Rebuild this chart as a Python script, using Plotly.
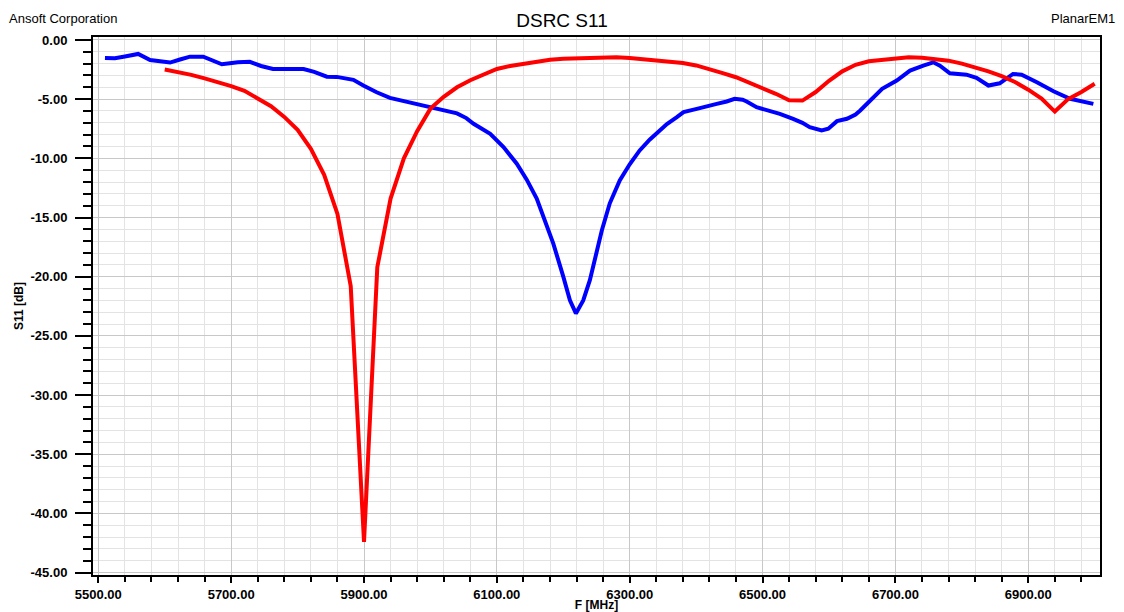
import plotly.graph_objects as go

# Blue trace (S11, curve 1)
blue_freq = [5510, 5525, 5540, 5560, 5578, 5595, 5608, 5623, 5638, 5658, 5672, 5686, 5698, 5710,
             5728, 5745, 5763, 5785, 5809, 5825, 5844, 5859, 5874, 5884, 5899, 5919, 5939, 5964,
             5994, 6024, 6040, 6054, 6065, 6090, 6110, 6130, 6145, 6160, 6175, 6185, 6200, 6210,
             6219, 6230, 6240, 6258, 6270, 6285, 6300, 6315, 6330, 6345, 6356, 6371, 6381, 6401,
             6421, 6431, 6446, 6458, 6470, 6476, 6491, 6510, 6526, 6546, 6560, 6571, 6589, 6599,
             6612, 6627, 6640, 6647, 6662, 6670, 6680, 6702, 6722, 6742, 6757, 6767, 6782, 6807,
             6822, 6840, 6857, 6877, 6890, 6913, 6938, 6963, 6998]
blue_db = [-1.52, -1.55, -1.40, -1.18, -1.69, -1.85, -1.91, -1.65, -1.41, -1.41, -1.75, -2.05, -1.97, -1.88,
           -1.85, -2.20, -2.45, -2.45, -2.45, -2.70, -3.10, -3.12, -3.29, -3.37, -3.85, -4.42, -4.89, -5.20,
           -5.65, -5.96, -6.20, -6.60, -7.08, -7.93, -9.05, -10.46, -11.80, -13.40, -15.60, -17.20, -20.00, -22.00,
           -23.10, -22.00, -20.30, -16.10, -13.80, -11.86, -10.50, -9.33, -8.43, -7.65, -7.10, -6.52, -6.10, -5.82,
           -5.50, -5.40, -5.20, -4.97, -5.05, -5.20, -5.68, -5.95, -6.24, -6.66, -7.00, -7.37, -7.65, -7.50,
           -6.86, -6.66, -6.30, -5.96, -5.12, -4.60, -4.13, -3.43, -2.59, -2.17, -1.89, -2.17, -2.81, -2.93,
           -3.20, -3.85, -3.66, -2.87, -2.93, -3.57, -4.33, -4.97, -5.40]

# Red trace (S11, curve 2)
red_freq = [5600, 5620, 5640, 5660, 5680, 5700, 5720, 5740, 5760, 5780, 5800, 5820, 5840, 5860, 5880,
            5900, 5920, 5940, 5960, 5980, 6000, 6020, 6040, 6060, 6080, 6100, 6120, 6140, 6160, 6180,
            6200, 6220, 6240, 6260, 6280, 6300, 6320, 6340, 6360, 6380, 6400, 6420, 6440, 6460, 6480,
            6500, 6520, 6540, 6560, 6580, 6600, 6620, 6640, 6660, 6680, 6700, 6720, 6740, 6760, 6780,
            6800, 6820, 6840, 6860, 6880, 6900, 6920, 6940, 6960, 6980, 7000]
red_db = [-2.50, -2.70, -2.95, -3.25, -3.55, -3.90, -4.30, -4.95, -5.60, -6.50, -7.60, -9.20, -11.40, -14.70, -20.80,
          -42.40, -19.20, -13.40, -10.00, -7.70, -5.80, -4.80, -4.00, -3.40, -2.90, -2.45, -2.20, -2.00, -1.80, -1.68,
          -1.58, -1.55, -1.48, -1.46, -1.47, -1.53, -1.62, -1.70, -1.80, -1.95, -2.15, -2.45, -2.80, -3.15, -3.60,
          -4.10, -4.55, -5.10, -5.12, -4.40, -3.45, -2.65, -2.10, -1.80, -1.67, -1.55, -1.46, -1.50, -1.60, -1.75,
          -2.00, -2.30, -2.65, -3.05, -3.55, -4.20, -4.95, -6.05, -5.00, -4.40, -3.70]

x_tick_vals = [5500, 5700, 5900, 6100, 6300, 6500, 6700, 6900]
x_tick_labels = ["5500.00", "5700.00", "5900.00", "6100.00", "6300.00", "6500.00", "6700.00", "6900.00"]
y_tick_vals = [0, -5, -10, -15, -20, -25, -30, -35, -40, -45]
y_tick_labels = ["0.00", "-5.00", "-10.00", "-15.00", "-20.00", "-25.00", "-30.00", "-35.00", "-40.00", "-45.00"]

FONT = "Liberation Sans, Arial, sans-serif"

fig = go.Figure()
fig.add_trace(go.Scatter(x=blue_freq, y=blue_db, mode="lines",
                         line=dict(color="#0000FF", width=4), showlegend=False))
fig.add_trace(go.Scatter(x=red_freq, y=red_db, mode="lines",
                         line=dict(color="#FF0000", width=4), showlegend=False))

fig.update_layout(
    width=1124, height=612,
    margin=dict(l=93, r=24, t=37, b=37, autoexpand=False),
    paper_bgcolor="white", plot_bgcolor="white",
    font=dict(family=FONT, color="black"),
    title=dict(text="DSRC S11", x=0.5, xref="container", xanchor="center",
               y=1 - 20 / 612, yref="container", yanchor="middle",
               font=dict(family=FONT, size=19, color="black")),
    annotations=[
        dict(text="Ansoft Corporation", xref="paper", yref="paper",
             x=(7 - 93) / 1007, y=(575 - 18) / 538, xanchor="left", yanchor="middle",
             showarrow=False, font=dict(family=FONT, size=13, color="black")),
        dict(text="PlanarEM1", xref="paper", yref="paper",
             x=(1117 - 93) / 1007, y=(575 - 18) / 538, xanchor="right", yanchor="middle",
             showarrow=False, font=dict(family=FONT, size=13, color="black")),
    ],
)

fig.update_xaxes(
    range=[5492, 7008], automargin=False,
    tickmode="array", tickvals=x_tick_vals, ticktext=x_tick_labels,
    ticks="outside", ticklen=6, tickwidth=1.5, tickcolor="black",
    tickfont=dict(family=FONT, size=13, weight="bold"),
    showgrid=True, gridcolor="#c8c8c8", gridwidth=1,
    minor=dict(tick0=5500, dtick=40, ticks="outside", ticklen=5, tickwidth=1.5, tickcolor="black",
               showgrid=True, gridcolor="#e3e3e3", gridwidth=1),
    showline=True, linecolor="black", linewidth=2, mirror=True,
    zeroline=False,
    title=dict(text="F [MHz]", standoff=0, font=dict(family=FONT, size=12, weight="bold")),
)

fig.update_yaxes(
    range=[-45.2, 0.25], automargin=False,
    tickmode="array", tickvals=y_tick_vals, ticktext=y_tick_labels,
    ticks="outside", ticklen=16, tickwidth=1.5, tickcolor="black",
    tickfont=dict(family=FONT, size=13, weight="bold"), ticklabelstandoff=5,
    showgrid=True, gridcolor="#c8c8c8", gridwidth=1,
    minor=dict(tick0=0, dtick=1, ticks="outside", ticklen=8, tickwidth=1.5, tickcolor="black",
               showgrid=True, gridcolor="#e3e3e3", gridwidth=1),
    showline=True, linecolor="black", linewidth=2, mirror=True,
    zeroline=False,
    title=dict(text="S11 [dB]", standoff=4, font=dict(family=FONT, size=12, weight="bold")),
)

fig.write_html("out.html", config={"displayModeBar": False},
               post_script="document.body.style.margin='0';")
